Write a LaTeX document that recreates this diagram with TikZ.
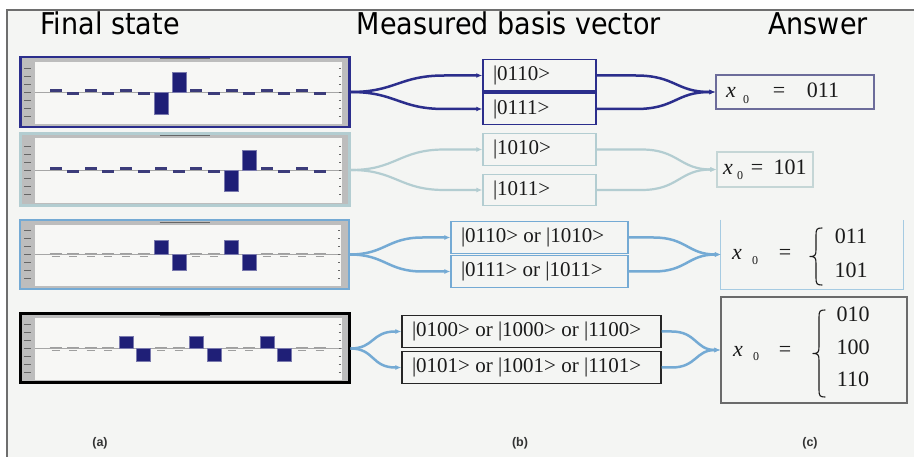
\documentclass[tikz,border=0pt]{standalone}
\usepackage{fontspec}
\setmainfont{Liberation Serif}
\newfontfamily\headfont[FakeStretch=0.9]{DejaVu Sans}
\newfontfamily\capfont{Liberation Sans}
\usetikzlibrary{arrows.meta,calc}

\definecolor{bgc}{HTML}{F4F5F3}
\definecolor{framec}{HTML}{6E6E6E}
\definecolor{navy}{HTML}{2B2E8C}
\definecolor{pale}{HTML}{B3CDD1}
\definecolor{steel}{HTML}{74AAD4}
\definecolor{chartgray}{HTML}{BDBDBD}
\definecolor{plotbg}{HTML}{F7F7F5}
\definecolor{barc}{HTML}{1F1F77}
\definecolor{ansA}{HTML}{6C6C9A}
\definecolor{ansB}{HTML}{C5D6D6}
\definecolor{ansC}{HTML}{A6CBE2}
\definecolor{ansD}{HTML}{6A6A6A}
\definecolor{txt}{HTML}{1A1A1A}

% bar chart helpers (bar i sits at x = 55.5 + 17.6 i)
\newcommand\chartdecor[1]{%
  \fill[plotbg] ($(#1.north west)+(16,6)$) rectangle ($(#1.south east)+(-9,-4)$);
  \draw[axisln] ($(#1.west)+(16,0)$) -- ($(#1.east)+(-9,0)$);
  \foreach \k in {-3,...,3} \draw[tickmk] ($(#1.west)+(5,\k*8)$) -- ++(7,0);
  \foreach \k in {-3,...,3} \draw[tickmk] ($(#1.east)+(-12,\k*8)$) -- ++(2,0);
  \draw[tickmk] ($(#1.north)+(-25,3)$) -- ++(50,0);
}
\newcommand\smallbars[3]{%
  \foreach \i in {#2} \fill[smallbar] ({55.5+17.6*\i-6},#1) rectangle ++(12,-3);
  \foreach \i in {#3} \fill[smallbar] ({55.5+17.6*\i-6},#1) rectangle ++(12,3);
}
\newcommand\labelmarks[2]{%
  \foreach \i in {#2} {
    \draw[lblmark] ({55.5+17.6*\i-6},#1-1.5) -- ++(12,0);
    \draw[lblmark] ({55.5+17.6*\i-4},#1+1.5) -- ++(8,0);
  }
}
\newcommand\bigbar[3]{\fill[bar] ({55.5+17.6*#1-7},#2) rectangle ++(14,#3);}

% curly brace: stem at x=#1, from y=#2 down to y=#3, pointing left
\newcommand\curlybrace[3]{%
  \pgfmathsetmacro\bmid{(#2+#3)/2}
  \draw[bracepen] ({#1+6},#2) .. controls ({#1+1},#2) and (#1,{#2+1}) .. (#1,{#2+7})
    -- (#1,{\bmid-7}) .. controls (#1,{\bmid-1}) and ({#1-1},\bmid) .. ({#1-6},\bmid)
    .. controls ({#1-1},\bmid) and (#1,{\bmid+1}) .. (#1,{\bmid+7})
    -- (#1,{#3-7}) .. controls (#1,{#3-1}) and ({#1+1},#3) .. ({#1+6},#3);
}

\begin{document}
\begin{tikzpicture}[x=1pt,y=-1pt,
  panel/.style={draw=#1, fill=chartgray, minimum width=329pt, inner sep=0pt},
  axisln/.style={draw=gray!70, line width=0.5pt},
  tickmk/.style={draw=gray!80!black, line width=0.7pt},
  lblmark/.style={draw=gray!75, line width=0.6pt},
  smallbar/.style={fill=barc!70!gray},
  bar/.style={fill=barc, draw=barc!60!white, line width=0.4pt},
  mbox/.style={draw=#1, fill=bgc, inner xsep=10pt, inner ysep=0pt,
    minimum height=31.5pt, text=txt, font=\fontsize{21}{21}\selectfont},
  abox/.style={draw=#1, fill=bgc, inner sep=0pt},
  anum/.style={anchor=base, inner sep=0pt, text=txt, font=\fontsize{22}{22}\selectfont},
  asub/.style={anchor=base, inner sep=0pt, text=txt, font=\fontsize{12}{12}\selectfont},
  bracepen/.style={draw=txt, line width=1.1pt, line cap=round, line join=round},
  head/.style={anchor=base, inner sep=0pt, text=black, font=\headfont\fontsize{30}{30}\selectfont},
  capt/.style={inner sep=0pt, text=black!80, font=\capfont\bfseries\fontsize{12.5}{12.5}\selectfont},
  arr/.style={-{Latex[length=6pt,width=5pt]}},
]
\useasboundingbox (0,0) rectangle (914,457);
\fill[white] (0,0) rectangle (914,457);
\fill[bgc] (7,10) rectangle (914,457);
\draw[framec, line width=2pt] (7,457) -- (7,10) -- (914,10);

% column headings
\node[head] (hA) at (110,35) {Final state};
\node[head] (hB) at (509,35) {Measured basis vector};
\node[head] (hC) at (818,35) {Answer};

% final-state bar charts
\node[panel=navy, line width=2.5pt, minimum height=70pt] (p1) at (185,92) {};
\chartdecor{p1}
\smallbars{92}{0,2,4,8,10,12,14}{1,3,5,9,11,13,15}
\bigbar{6}{92}{22}
\bigbar{7}{92}{-20}

\node[panel=pale, line width=3pt, minimum height=72pt] (p2) at (185,170) {};
\chartdecor{p2}
\smallbars{170}{0,2,4,6,8,12,14}{1,3,5,7,9,13,15}
\bigbar{10}{170}{21}
\bigbar{11}{170}{-20}

\node[panel=steel, line width=2pt, minimum height=69pt] (p3) at (184.5,254.5) {};
\chartdecor{p3}
\labelmarks{254.5}{0,1,2,3,4,5,8,9,12,13,14,15}
\bigbar{6}{254.5}{-14}
\bigbar{7}{254.5}{16}
\bigbar{10}{254.5}{-14}
\bigbar{11}{254.5}{16}

\node[panel=black, line width=3pt, minimum height=69pt] (p4) at (184.5,348.5) {};
\chartdecor{p4}
\labelmarks{348.5}{0,1,2,3,6,7,10,11,14,15}
\bigbar{4}{348.5}{-12}
\bigbar{5}{348.5}{13}
\bigbar{8}{348.5}{-12}
\bigbar{9}{348.5}{13}
\bigbar{12}{348.5}{-12}
\bigbar{13}{348.5}{13}

% measured basis vectors
\node[mbox=navy, line width=1.5pt] (m1a) at (539.5,75.5) {\makebox[93pt][l]{|0110>}};
\node[mbox=navy, line width=1.5pt] (m1b) at (539.5,109) {\makebox[93pt][l]{|0111>}};
\node[mbox=pale, line width=1.2pt] (m2a) at (539.5,149.5) {\makebox[93pt][l]{|1010>}};
\node[mbox=pale, line width=1.2pt] (m2b) at (539.5,190) {\makebox[93pt][l]{|1011>}};
\node[mbox=steel, line width=1.2pt] (m3a) at (539.5,237.5) {\makebox[157pt][l]{|0110> or |1010>}};
\node[mbox=steel, line width=1.2pt] (m3b) at (539.5,271.5) {\makebox[157pt][l]{|0111> or |1011>}};
\node[mbox=black!85, line width=1.2pt] (m4a) at (531.5,331.5) {\makebox[239pt][l]{|0100> or |1000> or |1100>}};
\node[mbox=black!85, line width=1.2pt] (m4b) at (531.5,367.5) {\makebox[239pt][l]{|0101> or |1001> or |1101>}};

% answer boxes
\node[abox=ansA, line width=1.2pt, minimum width=158pt, minimum height=34pt] (a1) at (795,92) {};
\node[anum] (a1x) at (731,98) {\itshape x};
\node[asub] (a1s) at (746,104) {0};
\node[anum] (a1e) at (779,98) {=};
\node[anum] (a1v) at (823,98) {011};

\node[abox=ansB, line width=1.2pt, minimum width=96pt, minimum height=35pt] (a2) at (765,169.5) {};
\node[anum] (a2x) at (728,175) {\itshape x};
\node[asub] (a2s) at (740,180) {0};
\node[anum] (a2e) at (757,175) {=};
\node[anum] (a2v) at (790,175) {101};

\node[inner sep=0pt, minimum width=182pt, minimum height=69pt] (a3) at (812,254.5) {};
\draw[ansC, line width=1.2pt] (a3.north west) -- (a3.south west) -- (a3.south east) -- (a3.north east);
\node[anum] (a3x) at (737,260) {\itshape x};
\node[asub] (a3s) at (755,265) {0};
\node[anum] (a3e) at (785,260) {=};
\curlybrace{816}{228}{285}
\node[anum] (a3v1) at (851,244) {011};
\node[anum] (a3v2) at (851,278) {101};

\node[abox=ansD, line width=1.2pt, minimum width=186pt, minimum height=106pt] (a4) at (814,350) {};
\node[anum] (a4x) at (738,356) {\itshape x};
\node[asub] (a4s) at (756,361) {0};
\node[anum] (a4e) at (785,356) {=};
\curlybrace{819}{310}{397}
\node[anum] (a4v1) at (853,322) {010};
\node[anum] (a4v2) at (853,355) {100};
\node[anum] (a4v3) at (853,387) {110};

% connectors: chart -> basis vectors -> answer
\begin{scope}[draw=navy, line width=2.5pt, arr]
  \draw (p1.east) .. controls +(45,0) and +(-45,0) .. ($(m1a.west)+(-38,0)$) -- (m1a.west);
  \draw (p1.east) .. controls +(45,0) and +(-45,0) .. ($(m1b.west)+(-38,0)$) -- (m1b.west);
  \draw (m1a.east) -- ++(39,0) .. controls +(40,0) and +(-40,0) .. (a1.west);
  \draw (m1b.east) -- ++(39,0) .. controls +(40,0) and +(-40,0) .. (a1.west);
\end{scope}
\begin{scope}[draw=pale, line width=2.2pt, arr]
  \draw (p2.east) .. controls +(45,0) and +(-45,0) .. ($(m2a.west)+(-38,0)$) -- (m2a.west);
  \draw (p2.east) .. controls +(45,0) and +(-45,0) .. ($(m2b.west)+(-38,0)$) -- (m2b.west);
  \draw (m2a.east) -- ++(45,0) .. controls +(37,0) and +(-37,0) .. (a2.west);
  \draw (m2b.east) -- ++(45,0) .. controls +(37,0) and +(-37,0) .. (a2.west);
\end{scope}
\begin{scope}[draw=steel, line width=2.5pt, arr]
  \draw (p3.east) .. controls +(35,0) and +(-35,0) .. ($(m3a.west)+(-28,0)$) -- (m3a.west);
  \draw (p3.east) .. controls +(35,0) and +(-35,0) .. ($(m3b.west)+(-28,0)$) -- (m3b.west);
  \draw (m3a.east) -- ++(25,0) .. controls +(33,0) and +(-33,0) .. (a3.west);
  \draw (m3b.east) -- ++(25,0) .. controls +(33,0) and +(-33,0) .. (a3.west);
  \draw (p4.east) .. controls +(24,0) and +(-24,0) .. ($(m4a.west)+(-6,0)$) -- (m4a.west);
  \draw (p4.east) .. controls +(24,0) and +(-24,0) .. ($(m4b.west)+(-6,0)$) -- (m4b.west);
  \draw (m4a.east) -- ++(10,0) .. controls +(25,0) and +(-25,0) .. (a4.west);
  \draw (m4b.east) -- ++(10,0) .. controls +(25,0) and +(-25,0) .. (a4.west);
\end{scope}

% sub-figure captions
\node[capt] (ca) at (100,443) {(a)};
\node[capt] (cb) at (520,443) {(b)};
\node[capt] (cc) at (810,443) {(c)};
\end{tikzpicture}
\end{document}
